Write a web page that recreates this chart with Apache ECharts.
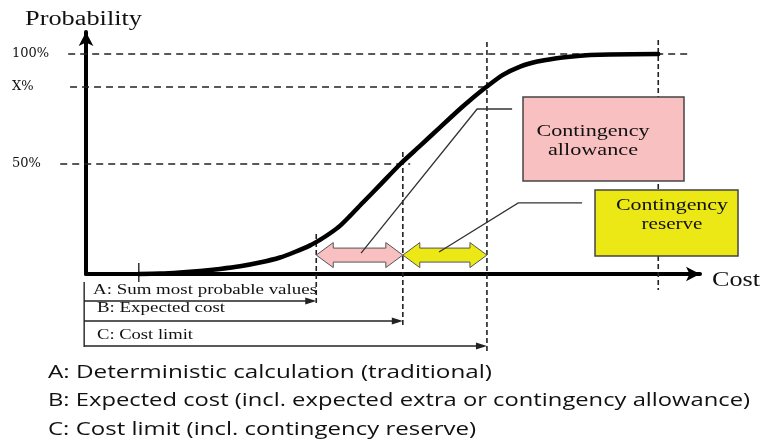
<!DOCTYPE html>
<html>
<head>
<meta charset="utf-8">
<script src="https://cdn.jsdelivr.net/npm/echarts@6/dist/echarts.min.js"></script>
<style>
html,body{margin:0;padding:0;background:#fff;}
#c{width:765px;height:444px;}
</style>
</head>
<body>
<div id="c"></div>
<script>
// ---- data (cost in % of axis length, probability in %) ----
const curveCost = [8.6, 12.1, 15.3, 18.6, 21.8, 25.1, 28.3, 31.6, 34.0, 36.5, 38.1, 39.7, 41.4, 43.0, 45.1, 47.9, 51.2, 54.4, 57.7, 60.9, 62.5, 65.3, 67.9, 70.7, 73.5, 76.4, 78.8, 82.1, 85.3, 93.2];
const curveProb = [0, 0.2, 0.7, 1.4, 2.3, 3.5, 5.2, 7.5, 10.0, 13.0, 15.5, 18.4, 22.0, 26.4, 32.5, 40.5, 50.0, 58.2, 66.8, 75.0, 78.9, 85.2, 90.5, 94.3, 96.6, 98.0, 98.8, 99.5, 99.8, 100];
const yTickValues = [50, 85, 100];
const yTickLabels = ['50%', 'X%', '100%'];
const costA = 37.5;   // Sum most probable values
const costB = 51.6;   // Expected cost
const costC = 65.3;   // Cost limit
const costStart = 8.6;
const costEnd = 93.2;
// guide lines: [x1, y1, x2, y2, dashed]
const guides = [
  [-2.9, 100, 98.7, 100, 1],
  [-2.6, 85, costC, 85, 1],
  [-4.2, 50, 52.8, 50, 1],
  [costA, 18.2, costA, -13.6, 2],
  [costB, 55.5, costB, -24.5, 2],
  [costC, 105.5, costC, -35.9, 2],
  [costEnd, 106.4, costEnd, -7.3, 2],
  [costStart, 5, costStart, -3.6, 0],
  [-0.3, -3.6, -0.3, -33.2, 0]
];
// double arrows: [from, to, level, colourIndex]
const spans = [[costA, costB, 8.6, 0], [costB, costC, 8.6, 1]];
// bracket arrows below axis: [from, to, level]
const brackets = [[-0.3, costA, -12.3], [-0.3, costB, -21.4], [-0.3, costC, -32.7]];
// leader lines: [x0,y0,x1,y1,x2,y2]
const leaders = [[44.8, 9.5, 63.7, 75, 69.4, 75], [57.5, 10, 70.4, 32.3, 80.8, 32.3]];
const spanColors = ['#f8c0c0', '#ece815'];
const bracketLabels = ['A: Sum most probable values', 'B: Expected cost', 'C: Cost limit'];
const footnotes = [
  'A: Deterministic calculation (traditional)',
  'B: Expected cost (incl. expected extra or contingency allowance)',
  'C: Cost limit (incl. contingency reserve)'
];

const mctx = document.createElement('canvas').getContext('2d');
function fitScale(text, font, w) { mctx.font = font; return w / mctx.measureText(text).width; }
const SERIF = '"Liberation Serif", "Times New Roman", serif';
function stext(text, x, y, size, w, opts) {
  const font = size + 'px ' + SERIF;
  return Object.assign({
    type: 'text', x: x, y: y, z: 120, scaleX: fitScale(text, font, w), silent: true,
    style: { text: text, font: font, fill: '#111', align: 'left', verticalAlign: 'middle' }
  }, opts || {});
}
function ctext(text, x, y, size, w) {
  const t = stext(text, x, y, size, w);
  t.style.align = 'center';
  return t;
}
const SANS = '"Open Sans", sans-serif';
function ftext(text, y, w) {
  const font = '18px ' + SANS;
  return { type: 'text', x: 48, y: y, z: 120, scaleX: fitScale(text, font, w), silent: true,
    style: { text: text, font: font, fill: '#111', align: 'left', verticalAlign: 'middle' } };
}

const chart = echarts.init(document.getElementById('c'), null, { renderer: 'canvas' });
chart.setOption({
  animation: false,
  backgroundColor: '#fff',
  grid: { left: 86, right: 65, top: 32, bottom: 170 },
  xAxis: {
    type: 'value', min: 0, max: 100,
    axisLine: { show: true, symbol: ['none', 'arrow'], symbolSize: [11, 14], lineStyle: { color: '#000', width: 4 } },
    axisTick: { show: false }, axisLabel: { show: false }, splitLine: { show: false }
  },
  yAxis: {
    type: 'value', min: 0, max: 110,
    axisLine: { show: true, symbol: ['none', 'arrow'], symbolSize: [11, 14], lineStyle: { color: '#000', width: 4 } },
    axisTick: { show: false },
    splitLine: { show: false },
    axisLabel: {
      customValues: yTickValues,
      formatter: function (v) { const i = yTickValues.indexOf(v); return i >= 0 ? yTickLabels[i] : ''; },
      fontFamily: '"DejaVu Serif", serif', fontSize: 13, color: '#111',
      align: 'left', margin: 74
    }
  },
  series: [
    {
      type: 'custom', name: 'guides', data: guides, clip: false, silent: true, z: 1,
      encode: { x: [0, 2], y: [1, 3] },
      renderItem: function (params, api) {
        const a = api.coord([api.value(0), api.value(1)]);
        const b = api.coord([api.value(2), api.value(3)]);
        const d = api.value(4);
        return { type: 'line', shape: { x1: a[0], y1: a[1], x2: b[0], y2: b[1] },
          style: { stroke: '#222', lineWidth: d ? 1.6 : 1.4, lineDash: d === 1 ? [7, 5] : (d === 2 ? [5, 3] : null) } };
      }
    },
    {
      type: 'line', name: 'S-curve', data: curveCost.map((c, i) => [c, curveProb[i]]),
      smooth: 0.25, symbol: 'none', clip: false, z: 5,
      lineStyle: { color: '#000', width: 4.5, cap: 'round', join: 'round' }
    },
    {
      type: 'custom', name: 'spans', data: spans, clip: false, silent: true, z: 6,
      encode: { x: [0, 1], y: 2 },
      renderItem: function (params, api) {
        const a = api.coord([api.value(0), api.value(2)]);
        const b = api.coord([api.value(1), api.value(2)]);
        const cy = a[1], L = 17, H = 12.5, h = 7;
        const x1 = a[0], x2 = b[0];
        return { type: 'polygon', shape: { points: [
          [x1, cy], [x1 + L, cy - H], [x1 + L, cy - h], [x2 - L, cy - h], [x2 - L, cy - H],
          [x2, cy], [x2 - L, cy + H], [x2 - L, cy + h], [x1 + L, cy + h], [x1 + L, cy + H]] },
          style: { fill: spanColors[api.value(3)], stroke: '#555', lineWidth: 1 } };
      }
    },
    {
      type: 'custom', name: 'leaders', data: leaders, clip: false, silent: true, z: 7,
      encode: { x: [0, 2, 4], y: [1, 3, 5] },
      renderItem: function (params, api) {
        const p = [0, 1, 2].map(k => api.coord([api.value(2 * k), api.value(2 * k + 1)]));
        return { type: 'polyline', shape: { points: p }, style: { stroke: '#333', lineWidth: 1.3, fill: null } };
      }
    },
    {
      type: 'custom', name: 'brackets', data: brackets, clip: false, silent: true, z: 6,
      encode: { x: [0, 1], y: 2 },
      renderItem: function (params, api) {
        const a = api.coord([api.value(0), api.value(2)]);
        const b = api.coord([api.value(1), api.value(2)]);
        return { type: 'group', children: [
          { type: 'line', shape: { x1: a[0], y1: a[1], x2: b[0] - 9, y2: a[1] }, style: { stroke: '#222', lineWidth: 1.5 } },
          { type: 'polygon', shape: { points: [[b[0], a[1]], [b[0] - 11, a[1] - 3.5], [b[0] - 11, a[1] + 3.5]] }, style: { fill: '#222' } }
        ] };
      }
    }
  ],
  graphic: [
    stext('Probability', 25, 20, 20, 117),
    stext('Cost', 712, 281, 20, 48),
    { type: 'rect', z: 110, shape: { x: 523, y: 97, width: 161, height: 84 }, style: { fill: '#f8c0c0', stroke: '#444', lineWidth: 1.5 } },
    { type: 'rect', z: 110, shape: { x: 595, y: 190, width: 143, height: 66 }, style: { fill: '#ece815', stroke: '#444', lineWidth: 1.5 } },
    ctext('Contingency', 593, 132, 17, 113),
    ctext('allowance', 593, 151, 17, 90),
    ctext('Contingency', 672, 206, 17, 112),
    ctext('reserve', 672, 225, 17, 61),
    stext(bracketLabels[0], 93, 290, 15, 224),
    stext(bracketLabels[1], 97, 308, 15, 128),
    stext(bracketLabels[2], 97, 335, 15, 96),
    ftext(footnotes[0], 373, 444),
    ftext(footnotes[1], 401, 702),
    ftext(footnotes[2], 430, 428)
  ]
});
</script>
</body>
</html>
